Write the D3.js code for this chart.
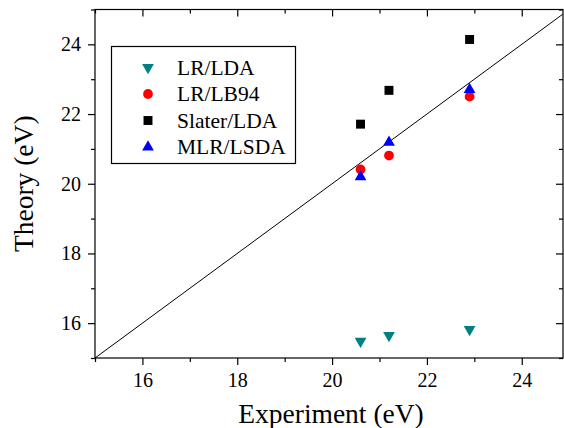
<!DOCTYPE html>
<html>
<head>
<meta charset="utf-8">
<script src="https://cdn.jsdelivr.net/npm/d3@7"></script>
<style>
body{margin:0;background:#fff;}
text{font-family:'Liberation Serif','Times New Roman',serif;}
</style>
</head>
<body>
<svg id="chart" width="564" height="428"></svg>
<script>
// data
var expX = [20.6, 21.2, 22.9];
var lrLda = [15.48, 15.65, 15.82];
var lrLb94 = [20.41, 20.81, 22.5];
var slaterLda = [21.71, 22.68, 24.14];
var mlrLsda = [20.2, 21.19, 22.7];
var seriesNames = ["LR/LDA", "LR/LB94", "Slater/LDA", "MLR/LSDA"];
var majorTicks = [16, 18, 20, 22, 24];
var minorTicks = [15, 17, 19, 21, 23, 25];

var svg = d3.select("#chart");
var pLeft = 95, pRight = 563, pTop = 9.5, pBottom = 358;

var x = d3.scaleLinear().domain([15, 24.87]).range([pLeft, pRight]);
var y = d3.scaleLinear().domain([15, 25]).range([pBottom, pTop]);

// y = x line
svg.append("clipPath").attr("id", "clip")
  .append("rect").attr("x", pLeft).attr("y", pTop).attr("width", pRight - pLeft).attr("height", pBottom - pTop);
svg.append("line")
  .attr("clip-path", "url(#clip)")
  .attr("x1", x(15)).attr("y1", y(15))
  .attr("x2", x(25)).attr("y2", y(25))
  .attr("stroke", "black").attr("stroke-width", 1);

// axes
function ax(axis, tr, vals, size, labels) {
  var g = svg.append("g").attr("transform", tr)
    .call(axis.tickValues(vals).tickSize(size).tickFormat(labels ? d3.format("d") : ""));
  g.select(".domain").remove();
  g.attr("font-size", 20);
  g.selectAll("line").attr("stroke", "black").attr("stroke-width", 1.2);
  g.selectAll("text").attr("fill", "black");
  return g;
}
var xMinor = minorTicks.filter(function(d){ return d < 24.87; });
ax(d3.axisBottom(x), "translate(0," + pBottom + ")", majorTicks, 7, true).selectAll("text").attr("dy", "0.95em");
ax(d3.axisBottom(x), "translate(0," + pBottom + ")", xMinor, 4, false);
ax(d3.axisTop(x), "translate(0," + pTop + ")", majorTicks, -7, false);
ax(d3.axisTop(x), "translate(0," + pTop + ")", xMinor, -4, false);
ax(d3.axisLeft(y), "translate(" + pLeft + ",0)", majorTicks, 7, true).selectAll("text").attr("dx", "-0.2em");
ax(d3.axisLeft(y), "translate(" + pLeft + ",0)", minorTicks, 4, false);
ax(d3.axisRight(y), "translate(" + pRight + ",0)", majorTicks, -7, false);
ax(d3.axisRight(y), "translate(" + pRight + ",0)", minorTicks, -4, false);

// frame
svg.append("rect")
  .attr("x", pLeft).attr("y", pTop).attr("width", pRight - pLeft).attr("height", pBottom - pTop)
  .attr("fill", "none").attr("stroke", "black").attr("stroke-width", 1.2);

// axis titles
svg.append("text")
  .attr("x", 331).attr("y", 423)
  .attr("text-anchor", "middle")
  .attr("font-size", 27.5)
  .text("Experiment (eV)");
svg.append("text")
  .attr("transform", "translate(33," + y(20) + ") rotate(-90)")
  .attr("text-anchor", "middle")
  .attr("font-size", 27.5)
  .text("Theory (eV)");

// markers
var downTri = d3.symbol().type(d3.symbolTriangle).size(60);
var upTri = d3.symbol().type(d3.symbolTriangle).size(60);
var circ = d3.symbol().type(d3.symbolCircle).size(75);
var sq = d3.symbol().type(d3.symbolSquare).size(80);

var series = [
  {vals: lrLda, color: "#008080", sym: downTri, rot: 180},
  {vals: lrLb94, color: "#ff0000", sym: circ, rot: 0},
  {vals: slaterLda, color: "#000000", sym: sq, rot: 0},
  {vals: mlrLsda, color: "#0000ff", sym: upTri, rot: 0}
];

series.forEach(function(s) {
  svg.append("g").selectAll("path")
    .data(s.vals)
    .enter().append("path")
    .attr("d", s.sym)
    .attr("fill", s.color)
    .attr("transform", function(d, i) {
      return "translate(" + x(expX[i]) + "," + y(d) + ") rotate(" + s.rot + ")";
    });
});

// legend
var lg = svg.append("g");
lg.append("rect")
  .attr("x", 111.5).attr("y", 46.5).attr("width", 184).attr("height", 117)
  .attr("fill", "white").attr("stroke", "black").attr("stroke-width", 1.2);
seriesNames.forEach(function(name, i) {
  var yy = 67.5 + i * 26.5;
  lg.append("path")
    .attr("d", series[i].sym)
    .attr("fill", series[i].color)
    .attr("transform", "translate(148," + yy + ") rotate(" + series[i].rot + ")");
  lg.append("text")
    .attr("x", 177).attr("y", yy + 7)
    .attr("font-size", 21.5)
    .text(name);
});
</script>
</body>
</html>
